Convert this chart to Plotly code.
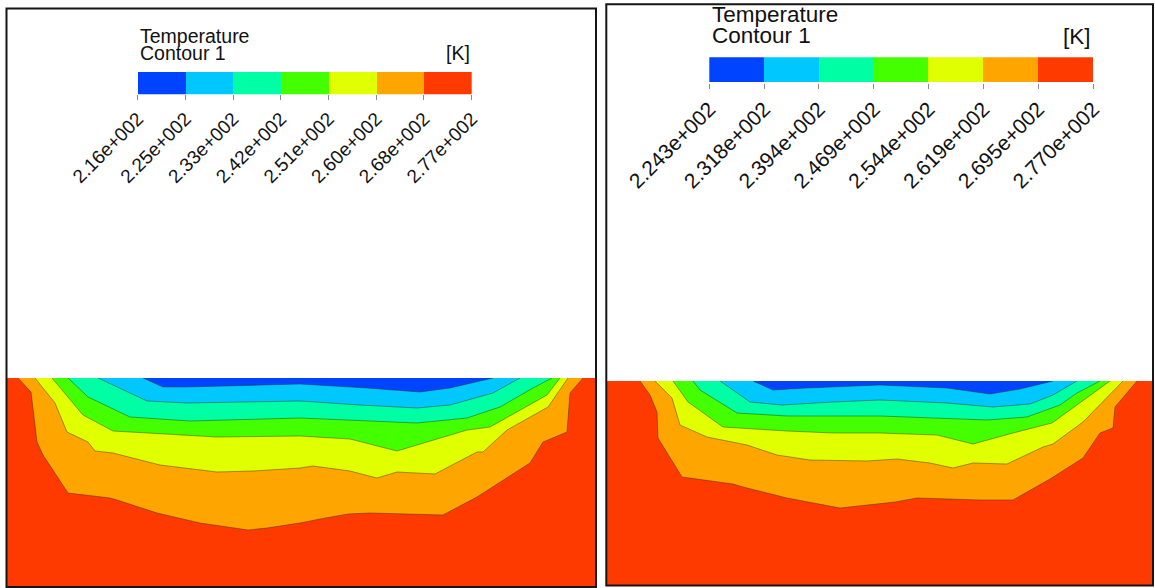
import plotly.graph_objects as go

W_PX, H_PX = 1155, 588

# ---------------- data ----------------
band_colors = ["#0044ff", "#00c8ff", "#00ffa4", "#44ff00", "#e0ff00", "#ffa500", "#ff3a00"]

left_tick_labels = ["2.16e+002", "2.25e+002", "2.33e+002", "2.42e+002",
                    "2.51e+002", "2.60e+002", "2.68e+002", "2.77e+002"]
right_tick_labels = ["2.243e+002", "2.318e+002", "2.394e+002", "2.469e+002",
                     "2.544e+002", "2.619e+002", "2.695e+002", "2.770e+002"]

# Isotherm boundaries (horizontal position, depth below the top of the domain)
# Left case (domain 588 wide, 208 deep)
L_RO_x = [11, 24, 30, 36, 61, 103, 110, 150, 193, 241, 260, 293, 313, 341, 363, 393, 436, 470, 493, 523, 536, 560, 563, 576]
L_RO_d = [0, 14, 64, 77, 115, 120, 122, 135, 145, 152, 150, 145, 141, 136, 135, 136, 137, 119, 104, 85, 64, 54, 15, 0]
L_OY_x = [28, 48, 60, 81, 88, 106, 153, 210, 246, 293, 306, 343, 370, 390, 428, 470, 476, 500, 541, 561]
L_OY_d = [0, 25, 54, 64, 73, 75, 87, 94, 93, 90, 88, 93, 100, 94, 96, 74, 74, 52, 29, 0]
L_YG_x = [45, 76, 106, 160, 210, 293, 343, 390, 423, 460, 483, 540, 553]
L_YG_d = [0, 37, 53, 56, 59, 58, 61, 73, 63, 52, 49, 17, 0]
L_GT_x = [61, 81, 123, 183, 293, 343, 410, 460, 493, 526, 545]
L_GT_d = [0, 19, 39, 43, 40, 42, 45, 40, 29, 10, 0]
L_TC_x = [91, 140, 180, 226, 293, 353, 410, 443, 486, 513]
L_TC_d = [0, 23, 25, 24, 23, 27, 30, 27, 15, 0]
L_CB_x = [136, 156, 180, 226, 293, 360, 413, 443, 486]
L_CB_d = [0, 9, 9, 8, 6, 10, 14, 10, 0]

# Right case (domain 545 wide, 204 deep)
R_RO_x = [33, 43, 50, 51, 75, 126, 136, 180, 233, 273, 288, 310, 373, 406, 443, 476, 493, 506, 508, 530]
R_RO_d = [0, 14, 31, 57, 96, 103, 106, 117, 127, 123, 121, 117, 119, 119, 98, 77, 52, 47, 26, 0]
R_OY_x = [48, 65, 73, 100, 140, 170, 203, 260, 290, 323, 346, 366, 400, 436, 446, 476, 516]
R_OY_d = [0, 17, 44, 56, 64, 74, 79, 80, 78, 82, 87, 82, 83, 66, 63, 41, 0]
R_YG_x = [66, 81, 116, 180, 226, 273, 330, 366, 406, 445, 503]
R_YG_d = [0, 21, 46, 50, 52, 52, 54, 63, 52, 42, 0]
R_GT_x = [86, 93, 130, 180, 273, 323, 380, 420, 453, 470, 493]
R_GT_d = [0, 9, 32, 35, 35, 37, 39, 36, 24, 12, 0]
R_TC_x = [113, 143, 175, 226, 273, 340, 386, 423, 446, 470]
R_TC_d = [0, 21, 24, 21, 19, 22, 26, 23, 14, 0]
R_CB_x = [146, 166, 200, 273, 340, 383, 413, 446]
R_CB_d = [0, 9, 7, 4, 7, 13, 8, 0]

# ---------------- layout helpers ----------------
def px(x):
    return x / W_PX

def py(y):
    return 1 - y / H_PX

FONT = "Liberation Sans, Arial, sans-serif"

panels = [
    dict(dom=(7, 595, 378, 586), W=588, H=208,
         bounds=[(L_RO_x, L_RO_d), (L_OY_x, L_OY_d), (L_YG_x, L_YG_d),
                 (L_GT_x, L_GT_d), (L_TC_x, L_TC_d), (L_CB_x, L_CB_d)],
         bar=(137.7, 471.7, 71.7, 94.3), labels=left_tick_labels, fs=19.5, tfs=19,
         title_x=138, t1_y=35.5, t2_y=52.8, k_y=53.0,
         border=(6.5, 596.0, 8.5, 587.0)),
    dict(dom=(607, 1152, 381, 585), W=545, H=204,
         bounds=[(R_RO_x, R_RO_d), (R_OY_x, R_OY_d), (R_YG_x, R_YG_d),
                 (R_GT_x, R_GT_d), (R_TC_x, R_TC_d), (R_CB_x, R_CB_d)],
         bar=(709.3, 1093.0, 57.3, 82.7), labels=right_tick_labels, fs=22.5, tfs=21,
         title_x=709.5, t1_y=15.0, t2_y=35.5, k_y=36.5,
         border=(606.3, 1153.0, 4.3, 585.5)),
]

fig = go.Figure()
layout = dict(template="none", width=W_PX, height=H_PX, margin=dict(l=0, r=0, t=0, b=0, pad=0),
              paper_bgcolor="white", plot_bgcolor="rgba(0,0,0,0)",
              showlegend=False, font=dict(family=FONT, color="#111111"))
shapes, annotations = [], []

ax = 1
for p in panels:
    cx, bx = ax, ax + 1
    xa_c = "x" if cx == 1 else f"x{cx}"
    ya_c = "y" if cx == 1 else f"y{cx}"
    xa_b, ya_b = f"x{bx}", f"y{bx}"
    x0, x1, y0, y1 = p["dom"]
    layout["xaxis" if cx == 1 else f"xaxis{cx}"] = dict(
        domain=[px(x0), px(x1)], range=[0, p["W"]], visible=False, fixedrange=True,
        anchor=ya_c, automargin=False)
    layout["yaxis" if cx == 1 else f"yaxis{cx}"] = dict(
        domain=[py(y1), py(y0)], range=[p["H"], 0], visible=False, fixedrange=True,
        anchor=xa_c, automargin=False)
    # red background of the domain
    shapes.append(dict(type="rect", xref=f"{xa_c} domain", yref=f"{ya_c} domain",
                       x0=0, x1=1, y0=0, y1=1, fillcolor=band_colors[6],
                       line=dict(width=0), layer="below"))
    # bands: orange, yellow, green, teal, cyan, blue (each fills the area above its isotherm)
    for i, (bxs, bds) in enumerate(p["bounds"]):
        color = band_colors[5 - i]
        fig.add_trace(go.Scatter(x=bxs, y=bds, mode="lines", fill="toself",
                                 fillcolor=color,
                                 line=dict(color="rgba(40,30,0,0.45)", width=0.9),
                                 hoverinfo="skip", xaxis=xa_c, yaxis=ya_c))
    # color bar
    bx0, bx1, by0, by1 = p["bar"]
    layout[f"xaxis{bx}"] = dict(
        domain=[px(bx0), px(bx1)], range=[0, 7], anchor=ya_b, fixedrange=True,
        automargin=False,
        tickmode="array", tickvals=list(range(8)), ticktext=p["labels"],
        tickangle=-45, ticks="outside", ticklen=5, tickcolor="#8a8a8a", tickwidth=1,
        showgrid=False, zeroline=False, showline=False,
        tickfont=dict(family=FONT, size=p["tfs"], color="#111111"))
    layout[f"yaxis{bx}"] = dict(domain=[py(by1), py(by0)], range=[0, 1], visible=False,
                                fixedrange=True, anchor=xa_b, automargin=False)
    fig.add_trace(go.Bar(x=[k + 0.5 for k in range(7)], y=[1] * 7, width=1,
                         marker=dict(color=band_colors, line=dict(width=0)),
                         hoverinfo="skip", xaxis=xa_b, yaxis=ya_b))
    # legend texts
    annotations += [
        dict(text="Temperature", x=px(p["title_x"]), y=py(p["t1_y"]), xref="paper", yref="paper",
             xanchor="left", yanchor="middle", showarrow=False, font=dict(size=p["fs"])),
        dict(text="Contour 1", x=px(p["title_x"]), y=py(p["t2_y"]), xref="paper", yref="paper",
             xanchor="left", yanchor="middle", showarrow=False, font=dict(size=p["fs"])),
        dict(text="[K]", x=px(bx1), y=py(p["k_y"]), xref="paper", yref="paper",
             xanchor="right", yanchor="middle", showarrow=False, font=dict(size=p["fs"])),
    ]
    # panel frame
    fx0, fx1, fy0, fy1 = p["border"]
    shapes.append(dict(type="rect", xref="paper", yref="paper",
                       x0=px(fx0), x1=px(fx1), y0=py(fy1), y1=py(fy0),
                       line=dict(color="#151515", width=2), fillcolor="rgba(0,0,0,0)", layer="above"))
    ax += 2

layout["shapes"] = shapes
layout["annotations"] = annotations
layout["bargap"] = 0
fig.update_layout(**layout)
fig.write_html("out.html")
